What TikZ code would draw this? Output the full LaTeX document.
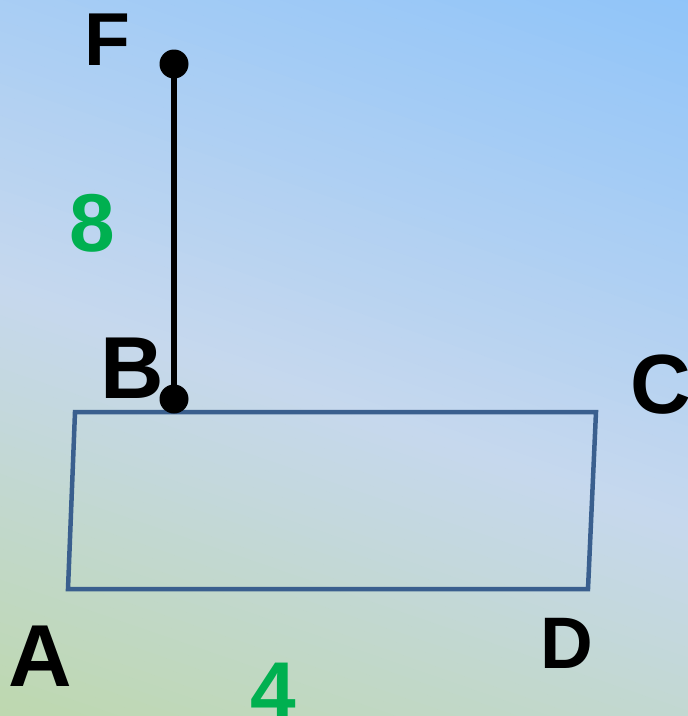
\documentclass[tikz,border=0pt]{standalone}
\usepackage{fontspec}
\setmainfont{Liberation Sans}
\definecolor{skytop}{HTML}{8FC4F9}
\definecolor{skymid}{HTML}{C6D8EE}
\definecolor{grassbot}{HTML}{BED8B0}
\definecolor{quadblue}{HTML}{3A5F8E}
\definecolor{lengreen}{HTML}{00B050}
\usetikzlibrary{positioning}
\tikzset{ptdot/.style={circle,fill=black,inner sep=0pt,minimum size=29pt},
ptlbl/.style={font=\bfseries\fontsize{88}{90}\selectfont,anchor=base,inner sep=0pt},
lenlbl/.style={font=\bfseries\fontsize{82}{84}\selectfont,text=lengreen,anchor=base,inner sep=0pt}}

\begin{document}
\begin{tikzpicture}[x=1pt,y=-1pt,
rodline/.style={draw=black,line width=6pt},
quadline/.style={draw=quadblue,line width=4.5pt,line join=miter}]
\useasboundingbox (0,0) rectangle (688,716);
\clip (0,0) rectangle (688,716);
% background, tilted gradient in stripes
\fill[skytop] (0,0) rectangle (688,716);
\begin{scope}[rotate around={-19:(344,402)}]
\foreach \k in {0,...,49}{
  \pgfmathtruncatemacro{\pc}{2*\k+1}
  \fill[skytop!\pc!skymid] (-400,{402-(\k+1)*10}) rectangle (1100,{402-\k*10+0.6});}
\foreach \k in {0,...,40}{
  \pgfmathtruncatemacro{\pc}{min(100,2.5*\k+1)}
  \fill[grassbot!\pc!skymid] (-400,{402+\k*10}) rectangle (1100,{402+(\k+1)*10+0.6});}
\end{scope}
% quadrilateral ABCD
\coordinate (qA) at (68,589);\coordinate (qB) at (75,412);
\coordinate (qC) at (596,412);\coordinate (qD) at (588,589);
\draw[quadline] (qA)--(qB)--(qC)--(qD)--cycle;
% segment FB
\node[ptdot] (F) at (174,64) {};
\node[ptdot] (B) at (174,399) {};
\draw[rodline] (F.center)--(B.center);
% labels
\node[ptlbl,font=\bfseries\fontsize{75}{77}\selectfont] (lblF) at (107,65) {F};
\node[ptlbl] (lblB) at (132,398) {B};
\node[ptlbl,font=\bfseries\fontsize{84}{86}\selectfont] (lblC) at (661,413) {C};
\node[ptlbl] (lblA) at (40,686) {A};
\node[ptlbl,font=\bfseries\fontsize{73}{75}\selectfont] (lblD) at (567,668) {D};
\node[lenlbl] (len8) at (92,251) {8};
\node[lenlbl] (len4) at (273,719) {4};
\end{tikzpicture}
\end{document}
